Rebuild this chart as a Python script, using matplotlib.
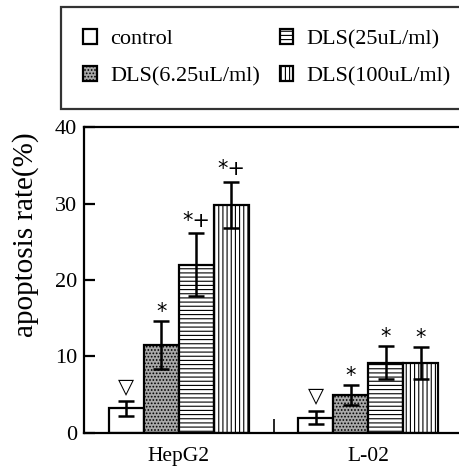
import matplotlib
matplotlib.use('Agg')
from matplotlib import pyplot as plt
import numpy as np

groups = ['HepG2', 'L-02']
series = ['control', 'DLS(6.25uL/ml)', 'DLS(25uL/ml)', 'DLS(100uL/ml)']
values = [[3.2, 11.5, 22.0, 29.8],
          [2.0, 5.0, 9.2, 9.2]]
errors = [[1.0, 3.2, 4.1, 3.0],
          [0.9, 1.3, 2.2, 2.1]]
marks = [['▽', '*', '*+', '*+'],
         ['▽', '*', '*', '*']]

faces = ['white', '#a8a8a8', 'white', 'white']
hatches = ['', '.....', '----', '||||']

plt.rcParams['hatch.linewidth'] = 0.8

fig = plt.figure(figsize=(4.59, 4.69), dpi=100)
ax = fig.add_axes([0.183, 0.077, 0.826, 0.652])

w = 0.185
x = np.arange(len(groups))
bars = []
for i, name in enumerate(series):
    pos = x + (i - 1.5) * w
    vals = [values[g][i] for g in range(len(groups))]
    errs = [errors[g][i] for g in range(len(groups))]
    b = ax.bar(pos, vals, w, color=faces[i], edgecolor='black', linewidth=1.6,
               hatch=hatches[i], label=name, zorder=2)
    ax.errorbar(pos, vals, yerr=errs, fmt='none', ecolor='black', elinewidth=1.8,
                capsize=5.8, capthick=1.8, zorder=3)
    bars.append(b)
    for g in range(len(groups)):
        m = marks[g][i]
        dy = {'▽': 3, '*': -1, '*+': 2}[m]
        ax.annotate(m, xy=(pos[g], vals[g] + errs[g]), xytext=(0, dy),
                    textcoords='offset points', ha='center', va='bottom',
                    fontsize=15, family='DejaVu Sans')

ax.set_xlim(-0.5, 1.5)
ax.set_ylim(0, 40)
ax.set_yticks([0, 10, 20, 30, 40])
ax.set_yticklabels(['0', '10', '20', '30', '40'], family='Liberation Serif', fontsize=16)
ax.tick_params(axis='y', direction='in', length=8, width=1.6, pad=5)
ax.set_xticks(x)
ax.set_xticklabels(groups, family='Liberation Serif', fontsize=15.5)
ax.tick_params(axis='x', which='major', length=0, pad=10)
ax.set_xticks([0.5], minor=True)
ax.tick_params(axis='x', which='minor', direction='in', length=10, width=1.2)
ax.set_ylabel('apoptosis rate(%)', family='Liberation Serif', fontsize=21)
ax.yaxis.set_label_coords(-0.12, 0.647)
for s in ax.spines.values():
    s.set_linewidth(1.6)

leg = fig.legend(handles=bars, labels=series, ncol=2, loc='upper left',
                 bbox_to_anchor=(0.133, 0.985), prop={'family': 'Liberation Serif', 'size': 16},
                 handlelength=0.6, handleheight=0.65, handletextpad=0.6,
                 columnspacing=0.9, labelspacing=0.75, borderpad=1.0,
                 fancybox=False, frameon=True, borderaxespad=0)
leg.get_frame().set_edgecolor('black')
leg.get_frame().set_linewidth(1.6)

fig.savefig('out.png', dpi=100)
